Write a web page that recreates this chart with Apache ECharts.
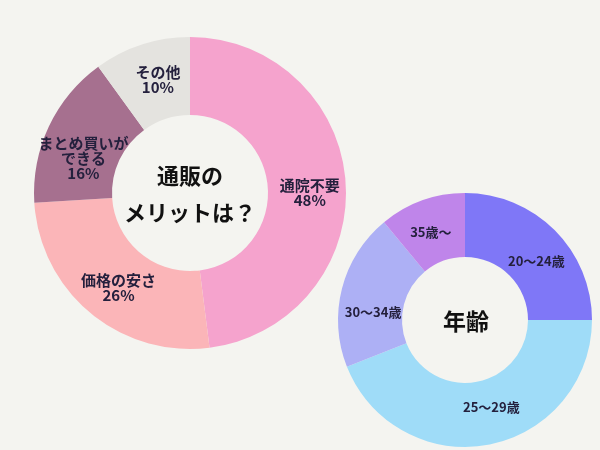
<!DOCTYPE html>
<html>
<head>
<meta charset="utf-8">
<script src="https://cdn.jsdelivr.net/npm/echarts@6/dist/echarts.min.js"></script>
<style>
  html, body { margin: 0; padding: 0; background: #f4f4f0; }
  #chart { width: 600px; height: 450px; }
</style>
</head>
<body>
<div id="chart"></div>
<script>
// 通販のメリット（左ドーナツ）
const meritNames  = ['通院不要', '価格の安さ', 'まとめ買いが\nできる', 'その他'];
const meritValues = [48, 26, 16, 10];
const meritColors = ['#f5a3cd', '#fbb5b8', '#a6708f', '#e4e3df'];
const meritNudge  = [[0, 7], [5, 2], [2, 16], [5, 1]];

// 年齢（右ドーナツ）
const ageNames  = ['20〜24歳', '25〜29歳', '30〜34歳', '35歳〜'];
const ageValues = [25, 44, 20, 11];
const ageColors = ['#7f77f7', '#9fdcf8', '#adb0f5', '#bf85ea'];
const ageNudge  = [[2, 10], [8, -9], [3, 16], [-1, 4]];

const FONT = '"Noto Sans CJK JP", "Noto Sans", sans-serif';
const labelColor = '#24203d';

const chart = echarts.init(document.getElementById('chart'), null, { renderer: 'canvas' });

chart.setOption({
  backgroundColor: '#f4f4f0',
  animation: false,
  graphic: [
    { type: 'text', x: 190, y: 194,
      style: { text: '通販の\nメリットは？', font: 'bold 22px ' + FONT, fill: '#111',
        align: 'center', verticalAlign: 'middle', lineHeight: 37 } },
    { type: 'text', x: 466, y: 321,
      style: { text: '年齢', font: 'bold 23px ' + FONT, fill: '#111',
        align: 'center', verticalAlign: 'middle' } }
  ],
  series: [
    {
      type: 'pie',
      center: [190, 193],
      radius: [78, 156],
      startAngle: 90,
      clockwise: true,
      silent: true,
      label: {
        show: true, position: 'inside',
        fontFamily: FONT, fontSize: 15, fontWeight: 'bold', color: labelColor,
        lineHeight: 15,
        formatter: p => p.name + '\n' + p.value + '%'
      },
      labelLine: { show: false },
      data: meritNames.map((n, i) => ({
        name: n, value: meritValues[i],
        itemStyle: { color: meritColors[i] },
        label: { offset: meritNudge[i] }
      }))
    },
    {
      type: 'pie',
      center: [465, 320],
      radius: [63, 127],
      startAngle: 90,
      clockwise: true,
      silent: true,
      label: {
        show: true, position: 'inside',
        fontFamily: FONT, fontSize: 13, fontWeight: 'bold', color: labelColor,
        formatter: p => p.name
      },
      labelLine: { show: false },
      data: ageNames.map((n, i) => ({
        name: n, value: ageValues[i],
        itemStyle: { color: ageColors[i] },
        label: { offset: ageNudge[i] }
      }))
    }
  ]
});
</script>
</body>
</html>
